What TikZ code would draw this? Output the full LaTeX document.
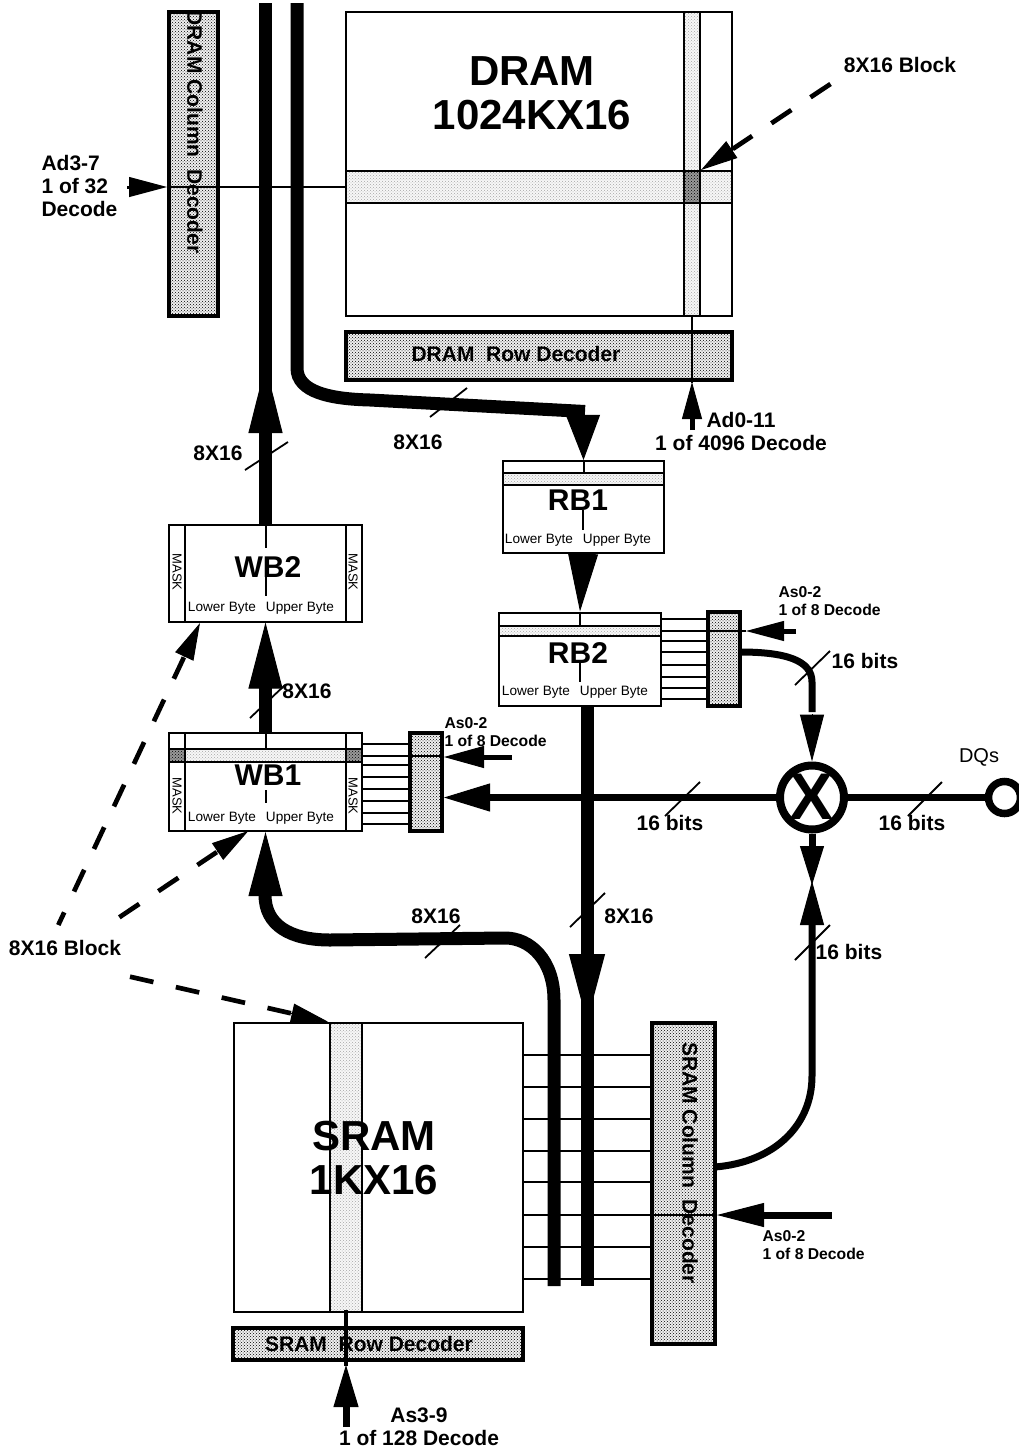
\documentclass[tikz,border=0pt]{standalone}
\usepackage{fontspec}
\setmainfont{Liberation Sans}
\usetikzlibrary{arrows.meta}
\usetikzlibrary{patterns}
\usetikzlibrary{calc}
\tikzset{
    box/.style={draw,line width=2pt,fill=white,inner sep=0pt},
    decoder/.style={draw,line width=4pt,inner sep=0pt,preaction={fill=black!6},pattern=crosshatch dots,pattern color=black},
    lightfill/.style={draw,line width=2pt,inner sep=0pt,preaction={fill=black!3},pattern=crosshatch dots,pattern color=black!35},
    darkfill/.style={draw,line width=2pt,inner sep=0pt,preaction={fill=black!40},pattern=crosshatch dots,pattern color=black},
    big/.style={font=\fontsize{42}{44}\selectfont\bfseries,align=center},
    buffer/.style={font=\fontsize{30}{30}\selectfont\bfseries},
    note/.style={font=\fontsize{21}{23}\selectfont\bfseries,align=left},
    small/.style={font=\fontsize{15.7}{18}\selectfont\bfseries,align=left},
    byte/.style={font=\fontsize{13.6}{14}\selectfont},
    mask/.style={font=\fontsize{13}{14}\selectfont,rotate=-90},
    bus/.style={line width=13pt},
    wire/.style={line width=7pt},
    feed/.style={line width=2pt},
    tick/.style={line width=1.8pt},
    dashline/.style={line width=4.7pt,dash pattern=on 24pt off 23pt},
    head/.style 2 args={line width=1pt,-{Triangle[length=#1pt,width=#2pt]}},
}
\begin{document}
\begin{tikzpicture}[x=1pt,y=-1pt]
    \useasboundingbox (0,0) rectangle (1018,1449);

    \node[box,minimum width=386pt,minimum height=304pt] (dram) at (539,164) {};
    \node[lightfill,minimum width=16pt,minimum height=304pt] (dramv) at (692,164) {};
    \node[lightfill,minimum width=386pt,minimum height=32pt] (dramh) at (539,187) {};
    \node[darkfill,minimum width=16pt,minimum height=32pt] (dramx) at (692,187) {};
    \node[big] (dramtext) at (532,93) {DRAM\\1024KX16};
    \node[decoder,minimum width=49pt,minimum height=304pt] (dramcol) at (193.5,164) {};
    \node[font=\fontsize{21}{21}\selectfont\bfseries,rotate=-90] (dramcoltext) at (195,132) {DRAM Column\ \ Decoder};
    \node[decoder,minimum width=386pt,minimum height=48pt] (dramrow) at (539,356) {};
    \node[font=\fontsize{21}{21}\selectfont\bfseries] (dramrowtext) at (516,354) {DRAM\ \ Row Decoder};
    \draw[feed] (dramh.west) -- (dramcol.west |- dramh.west);
    \draw[feed] (dramv.south) -- (692,383);

    \node[box,minimum width=161pt,minimum height=92pt] (rbone) at (583.5,507) {};
    \node[lightfill,minimum width=161pt,minimum height=12pt] (rbonebar) at (583.5,479) {};
    \node[buffer] (rbonetext) at (578,500) {RB1};
    \node[byte] (rbonelow) at (539,540.5) {Lower Byte};
    \node[byte] (rboneup) at (617,540.5) {Upper Byte};
    \draw[feed] (rbone.north) -- (rbonebar.north);
    \draw[feed] (583,510) -- (583,530);

    \node[box,minimum width=162pt,minimum height=93pt] (rbtwo) at (580,659) {};
    \node[lightfill,minimum width=162pt,minimum height=10pt] (rbtwobar) at (580,631) {};
    \node[buffer] (rbtwotext) at (578,653) {RB2};
    \node[byte] (rbtwolow) at (536,692.5) {Lower Byte};
    \node[byte] (rbtwoup) at (614,692.5) {Upper Byte};
    \draw[feed] (rbtwo.north) -- (rbtwobar.north);
    \draw[feed] (580,662) -- (580,682);

    \node[box,minimum width=193pt,minimum height=97pt] (wbtwo) at (265.5,573) {};
    \draw[line width=2pt] (185,524) -- (185,622) (346,524) -- (346,622);
    \node[mask] (wbtwomaskl) at (177,572) {MASK};
    \node[mask] (wbtwomaskr) at (353,572) {MASK};
    \node[buffer] (wbtwotext) at (268,567) {WB2};
    \node[byte] (wbtwolow) at (222,608.5) {Lower Byte};
    \node[byte] (wbtwoup) at (300,608.5) {Upper Byte};
    \draw[feed] (wbtwo.north) -- (265.5,548) (265.5,575) -- (265.5,596);

    \node[box,minimum width=193pt,minimum height=98pt] (wbone) at (265.5,782) {};
    \node[lightfill,minimum width=161pt,minimum height=13pt] (wbonebar) at (265.5,755.5) {};
    \node[darkfill,minimum width=16pt,minimum height=13pt] (wbonel) at (177,755.5) {};
    \node[darkfill,minimum width=16pt,minimum height=13pt] (wboner) at (354,755.5) {};
    \draw[line width=2pt] (185,733) -- (185,831) (346,733) -- (346,831);
    \node[mask] (wbonemaskl) at (177,796) {MASK};
    \node[mask] (wbonemaskr) at (353,796) {MASK};
    \node[buffer] (wbonetext) at (268,775) {WB1};
    \node[byte] (wbonelow) at (222,818.5) {Lower Byte};
    \node[byte] (wboneup) at (300,818.5) {Upper Byte};
    \draw[feed] (wbone.north) -- (wbonebar.north) (265.5,790) -- (265.5,803);

    \node[decoder,minimum width=32pt,minimum height=98pt] (wbdec) at (426,782) {};
    \foreach \y in {744,756,765,777,789,801,813,824}
        \draw[line width=1.8pt] (362,\y) -- (410,\y);
    \draw[feed] (410,756) -- (442,756);

    \node[decoder,minimum width=32pt,minimum height=94pt] (rbdec) at (724,659) {};
    \foreach \y in {619,631,641,652,665,677,688,699}
        \draw[line width=1.8pt] (661,\y) -- (708,\y);
    \draw[feed] (708,631) -- (746,631);

    \node[box,minimum width=289pt,minimum height=289pt] (sram) at (378.5,1167.5) {};
    \node[lightfill,minimum width=32pt,minimum height=289pt] (sramv) at (346,1167.5) {};
    \node[big] (sramtext) at (374,1158) {SRAM\\1KX16};
    \node[decoder,minimum width=63pt,minimum height=321pt] (sramcol) at (683.5,1183.5) {};
    \node[font=\fontsize{21}{21}\selectfont\bfseries,rotate=-90] (sramcoltext) at (690,1163) {SRAM Column\ \ Decoder};
    \node[decoder,minimum width=290pt,minimum height=32pt] (sramrow) at (378,1344) {};
    \node[font=\fontsize{21}{21}\selectfont\bfseries] (sramrowtext) at (369,1344) {SRAM\ \ Row Decoder};
    \foreach \y in {1055,1087,1119,1151,1182,1215,1247,1279}
        \draw[line width=1.8pt] (523,\y) -- (652,\y);
    \draw[feed] (652,1215) -- (717,1215);
    \draw[line width=4pt] (346,1310) -- (346,1366);

    \coordinate (topa) at (265.5,3);
    \coordinate (topb) at (297,3);
    \coordinate (rbin) at (587,705);
    \coordinate (rbout) at (740,652);
    \coordinate (srout) at (715,1167);
    \draw[bus] (wbtwo.north) -- (topa);
    \draw[head={68}{34}] (265.5,434) -- (265.5,365);
    \draw[bus] (topb) -- (297,368) .. controls (297,392) and (330,399) .. (370,400) -- (585,411.5);
    \draw[head={45}{34}] (583,414) -- (rbone.north);
    \draw[head={58}{30}] (583,554) -- (rbtwo.north);
    \draw[bus] (wbone.north) -- (265.5,688);
    \draw[head={66}{34}] (265.5,690) -- (wbtwo.south);
    \draw[bus] (rbin) -- (587,1286);
    \draw[head={68}{36}] (587,954) -- (587,1022);
    \draw[bus] (554,1286) -- (554,1000) .. controls (554,960) and (530,938) .. (505,938) -- (330,940) .. controls (290,940) and (265,925) .. (265,895);
    \draw[head={64}{34}] (265.5,897) -- (wbone.south);

    \node[circle,draw,line width=8pt,minimum size=64pt,inner sep=0pt] (mux) at (812,797.5) {};
    \node[font=\fontsize{66}{66}\selectfont\bfseries,inner sep=0pt] (muxtext) at (812,797) {X};
    \node[circle,draw,line width=7.5pt,minimum size=32pt,inner sep=0pt] (dq) at (1004.5,797.5) {};
    \draw[wire] (mux) -- (dq);
    \draw[wire] (mux) -- (488,797.5);
    \draw[head={46}{28}] (490,797.5) -- (wbdec.east |- mux);
    \draw[wire] (rbout) .. controls (785,652) and (812,660) .. (812,682) -- (812,712);
    \draw[head={47}{24}] (812,714) -- (mux.north);
    \draw[wire] (mux.south) -- (812,846);
    \draw[head={39}{24}] (812,845) -- (812,885);
    \draw[wire] (srout) .. controls (775,1162) and (812,1125) .. (812,1076) -- (812,924);
    \draw[head={44}{24}] (812,926) -- (812,881);

    \coordinate (ad) at (127,187);
    \draw[line width=3pt] (ad) -- (131,187);
    \draw[head={38}{20}] (129,187) -- (dramcol.west |- ad);
    \coordinate (adb) at (692,430);
    \draw[line width=5pt] (adb) -- (692,418);
    \draw[head={37}{20}] (692,420) -- (692,382);
    \coordinate (asa) at (796,631);
    \coordinate (asatip) at (746,631);
    \draw[line width=5pt] (asa) -- (784,631);
    \draw[head={38}{20}] (785,631) -- (asatip);
    \coordinate (asb) at (512,757);
    \draw[line width=5pt] (asb) -- (484,757);
    \draw[head={40}{22}] (485,757) -- (wbdec.east |- asb);
    \coordinate (asc) at (832,1215);
    \coordinate (asctip) at (717,1215);
    \draw[line width=7pt] (asc) -- (763,1215);
    \draw[head={47}{24}] (765,1215) -- (asctip);
    \coordinate (asd) at (346,1427);
    \coordinate (asdtip) at (346,1365);
    \draw[line width=7pt] (asd) -- (346,1406);
    \draw[head={42}{25}] (346,1408) -- (asdtip);

    \draw[tick] (245,470) -- (288,442);
    \draw[tick] (430,417) -- (467,388);
    \draw[tick] (250,718) -- (285,685);
    \draw[tick] (795,685) -- (830,651);
    \draw[tick] (665,816) -- (700,782);
    \draw[tick] (908,816) -- (942,782);
    \draw[tick] (570,927) -- (605,893);
    \draw[tick] (425,958) -- (460,925);
    \draw[tick] (795,960) -- (830,925);

    \coordinate (blockr) at (830.5,84);
    \coordinate (blocka) at (58.3,925);
    \coordinate (blockb) at (119.3,917.3);
    \coordinate (blockc) at (130,976.7);
    \coordinate (tipr) at (701,170);
    \coordinate (tipa) at (200,623);
    \coordinate (tipb) at (248.3,831);
    \coordinate (tipc) at (328,1021.7);
    \path ($(tipr)!38pt!(blockr)$) coordinate (baser);
    \path ($(tipa)!38pt!(blocka)$) coordinate (basea);
    \path ($(tipb)!38pt!(blockb)$) coordinate (baseb);
    \path ($(tipc)!38pt!(blockc)$) coordinate (basec);
    \draw[dashline] (blockr) -- (baser);
    \draw[dashline,dash phase=10pt] (blocka) -- (basea);
    \draw[dashline] (blockb) -- (baseb);
    \draw[dashline] (blockc) -- (basec);
    \draw[head={37}{20}] (baser) -- (tipr);
    \draw[head={37}{20}] (basea) -- (tipa);
    \draw[head={37}{20}] (baseb) -- (tipb);
    \draw[head={37}{20}] (basec) -- (tipc);

    \node[note] (blockrtext) at (900,65) {8X16 Block};
    \node[note] (blockltext) at (65,948) {8X16 Block};
    \node[note,anchor=west] (adtext) at (38,186) {Ad3-7\\1 of 32\\Decode};
    \node[note,align=center] (adbtext) at (741,431) {Ad0-11\\1 of 4096 Decode};
    \node[note,align=center] (asdtext) at (419,1427) {As3-9\\1 of 128 Decode};
    \node[small,anchor=west] (asatext) at (775,601) {As0-2\\1 of 8 Decode};
    \node[small,anchor=west] (asbtext) at (441,732) {As0-2\\1 of 8 Decode};
    \node[small,anchor=west] (asctext) at (759,1245) {As0-2\\1 of 8 Decode};
    \node[note] (ta) at (218,453) {8X16};
    \node[note] (tb) at (418,442) {8X16};
    \node[note] (tc) at (307,691) {8X16};
    \node[note] (td) at (436,916) {8X16};
    \node[note] (te) at (629,916) {8X16};
    \node[note] (tf) at (865,661) {16 bits};
    \node[note] (tg) at (670,823) {16 bits};
    \node[note] (th) at (912,823) {16 bits};
    \node[note] (ti) at (849,952) {16 bits};
    \node[font=\fontsize{20}{20}\selectfont] (dqtext) at (979,757) {DQs};
\end{tikzpicture}
\end{document}
